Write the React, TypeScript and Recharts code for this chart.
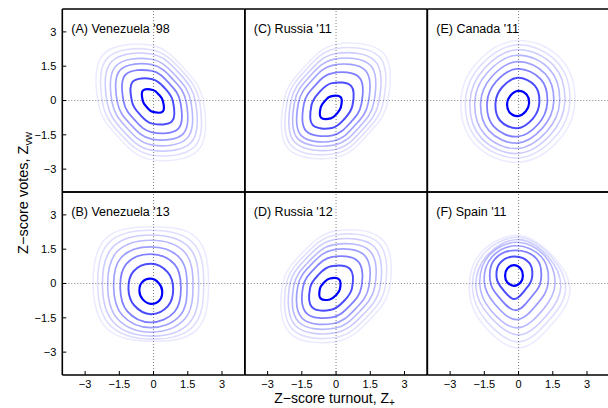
import React from 'react'
import { ScatterChart, Scatter, XAxis, YAxis, ReferenceLine } from 'recharts'

const ticks = [-3, -1.5, 0, 1.5, 3]
const levelOpacity = [1, 0.7, 0.5, 0.38, 0.28, 0.2, 0.13, 0.08]
const levelWidth = [2.2, 2, 1.8, 1.7, 1.6, 1.6, 1.6, 1.6]
// radii are read along these directions (deg): E, NE, N, NW, W, SW, S, SE
const directions = [0, 45, 90, 135, 180, 225, 270, 315]

const venezuela98Centers = [[-0.03, -0.02], [-0.05, -0.04], [-0.07, -0.05], [-0.08, -0.06], [-0.09, -0.07], [-0.1, -0.07], [-0.11, -0.08], [-0.12, -0.08]]
const venezuela98Radii = [
  [0.44, 0.38, 0.48, 0.63, 0.44, 0.38, 0.48, 0.63],
  [0.9, 0.79, 0.97, 1.22, 0.9, 0.79, 0.97, 1.22],
  [1.24, 1.1, 1.34, 1.65, 1.24, 1.1, 1.34, 1.65],
  [1.51, 1.35, 1.63, 1.96, 1.51, 1.35, 1.63, 1.96],
  [1.73, 1.56, 1.87, 2.22, 1.73, 1.56, 1.87, 2.22],
  [1.94, 1.76, 2.1, 2.48, 1.94, 1.76, 2.1, 2.48],
  [2.13, 1.93, 2.3, 2.72, 2.13, 1.93, 2.3, 2.72],
  [2.31, 2.08, 2.5, 2.95, 2.31, 2.08, 2.5, 2.95],
]

const venezuela13Centers = [[-0.12, -0.34], [-0.12, -0.24], [-0.13, -0.2], [-0.13, -0.15], [-0.13, -0.11], [-0.12, -0.08], [-0.12, -0.05], [-0.12, -0.02]]
const venezuela13Radii = [
  [0.5, 0.5, 0.55, 0.55, 0.5, 0.5, 0.55, 0.55],
  [0.98, 1.04, 1.1, 1.08, 0.98, 1.02, 1.1, 1.06],
  [1.33, 1.48, 1.48, 1.5, 1.33, 1.44, 1.5, 1.48],
  [1.6, 1.8, 1.75, 1.82, 1.62, 1.75, 1.78, 1.8],
  [1.86, 2.1, 2.0, 2.1, 1.88, 2.04, 2.02, 2.08],
  [2.1, 2.36, 2.2, 2.36, 2.12, 2.3, 2.22, 2.36],
  [2.32, 2.6, 2.38, 2.6, 2.33, 2.52, 2.38, 2.6],
  [2.53, 2.84, 2.5, 2.8, 2.53, 2.74, 2.5, 2.84],
]

const russia11Centers = [[-0.23, -0.3], [-0.18, -0.22], [-0.15, -0.16], [-0.12, -0.11], [-0.08, -0.07], [-0.05, -0.05], [-0.03, -0.03], [-0.01, -0.02]]
const russia11Radii = [
  [0.44, 0.62, 0.48, 0.38, 0.44, 0.62, 0.48, 0.38],
  [0.9, 1.2, 0.98, 0.8, 0.9, 1.2, 0.98, 0.8],
  [1.26, 1.65, 1.36, 1.12, 1.26, 1.65, 1.36, 1.12],
  [1.53, 2.0, 1.66, 1.36, 1.53, 2.0, 1.66, 1.36],
  [1.74, 2.26, 1.88, 1.55, 1.74, 2.26, 1.88, 1.55],
  [1.93, 2.5, 2.09, 1.72, 1.93, 2.5, 2.09, 1.72],
  [2.11, 2.74, 2.29, 1.88, 2.11, 2.74, 2.29, 1.88],
  [2.28, 2.95, 2.47, 2.02, 2.28, 2.95, 2.47, 2.02],
]

const russia12Centers = [[-0.27, -0.24], [-0.22, -0.2], [-0.17, -0.16], [-0.12, -0.14], [-0.08, -0.13], [-0.05, -0.12], [-0.02, -0.12], [0, -0.12]]
const russia12Radii = [
  [0.44, 0.58, 0.46, 0.38, 0.44, 0.58, 0.46, 0.38],
  [0.92, 1.18, 0.95, 0.8, 0.92, 1.18, 0.95, 0.8],
  [1.28, 1.6, 1.32, 1.12, 1.28, 1.6, 1.32, 1.12],
  [1.56, 1.94, 1.61, 1.37, 1.56, 1.94, 1.61, 1.37],
  [1.78, 2.2, 1.83, 1.56, 1.78, 2.2, 1.83, 1.56],
  [1.99, 2.44, 2.04, 1.75, 1.99, 2.44, 2.04, 1.75],
  [2.18, 2.67, 2.24, 1.92, 2.18, 2.67, 2.24, 1.92],
  [2.36, 2.88, 2.42, 2.08, 2.36, 2.88, 2.42, 2.08],
]

const canada11Centers = [[-0.02, -0.13], [-0.05, -0.11], [-0.06, -0.1], [-0.06, -0.08], [-0.06, -0.06], [-0.05, -0.05], [-0.04, -0.04], [-0.03, -0.04]]
const canada11Radii = [
  [0.48, 0.54, 0.55, 0.48, 0.48, 0.54, 0.55, 0.48],
  [0.96, 1.08, 1.1, 0.96, 0.96, 1.08, 1.1, 0.96],
  [1.32, 1.46, 1.48, 1.31, 1.32, 1.46, 1.48, 1.31],
  [1.6, 1.75, 1.78, 1.58, 1.6, 1.75, 1.78, 1.58],
  [1.86, 2.01, 2.04, 1.83, 1.86, 2.01, 2.04, 1.83],
  [2.08, 2.24, 2.27, 2.05, 2.08, 2.24, 2.27, 2.05],
  [2.29, 2.44, 2.47, 2.26, 2.29, 2.44, 2.47, 2.26],
  [2.5, 2.65, 2.66, 2.47, 2.5, 2.65, 2.66, 2.47],
]

const spain11Centers = [[-0.2, 0.35], [-0.18, 0.25], [-0.12, 0.15], [-0.08, 0.05], [-0.05, 0], [0, -0.15], [0, -0.22], [0, -0.3]]
const spain11Radii = [
  [0.39, 0.42, 0.45, 0.42, 0.39, 0.42, 0.45, 0.42],
  [0.77, 0.92, 0.93, 0.9, 0.78, 0.72, 0.93, 0.7],
  [1.1, 1.3, 1.3, 1.3, 1.13, 1.05, 1.32, 1.0],
  [1.38, 1.55, 1.6, 1.55, 1.42, 1.35, 1.63, 1.3],
  [1.65, 1.7, 1.8, 1.75, 1.65, 1.65, 1.94, 1.6],
  [1.85, 1.85, 2.07, 1.95, 1.87, 1.8, 2.1, 1.75],
  [2.06, 2.0, 2.24, 2.15, 2.02, 2.0, 2.33, 1.92],
  [2.25, 2.12, 2.4, 2.33, 2.16, 2.16, 2.52, 2.08],
]

const panels = [
  { title: "(A) Venezuela '98", centers: venezuela98Centers, radii: venezuela98Radii, col: 0, row: 0 },
  { title: "(B) Venezuela '13", centers: venezuela13Centers, radii: venezuela13Radii, col: 0, row: 1 },
  { title: "(C) Russia '11", centers: russia11Centers, radii: russia11Radii, col: 1, row: 0 },
  { title: "(D) Russia '12", centers: russia12Centers, radii: russia12Radii, col: 1, row: 1 },
  { title: "(E) Canada '11", centers: canada11Centers, radii: canada11Radii, col: 2, row: 0 },
  { title: "(F) Spain '11", centers: spain11Centers, radii: spain11Radii, col: 2, row: 1 },
]

const CW = 620
const CH = 408
const PW = 182.5
const PH = 183
const AX = 1 // axis box size; recharts skips axes of zero size
const colLeft = [62.3, 244.8, 427.3]
const rowTop = [9, 192]
const FONT = '"Liberation Sans", Arial, Helvetica, sans-serif'
const border = { stroke: '#000', strokeWidth: 1.6 }

const fmt = (v: number) => String(v).replace('-', '\u2212')

// closed cardinal curve through the read points (tension tuned so 8 points make a round ellipse)
const closedSmooth = (ctx: any) => {
  let pts: number[][] = []
  const k = 0.1875
  return {
    areaStart() {},
    areaEnd() {},
    lineStart() { pts = [] },
    point(x: number, y: number) { pts.push([+x, +y]) },
    lineEnd() {
      const n = pts.length
      if (n < 3) return
      ctx.moveTo(pts[0][0], pts[0][1])
      for (let i = 0; i < n; i++) {
        const p0 = pts[(i + n - 1) % n]
        const p1 = pts[i]
        const p2 = pts[(i + 1) % n]
        const p3 = pts[(i + 2) % n]
        ctx.bezierCurveTo(
          p1[0] + (p2[0] - p0[0]) * k, p1[1] + (p2[1] - p0[1]) * k,
          p2[0] - (p3[0] - p1[0]) * k, p2[1] - (p3[1] - p1[1]) * k,
          p2[0], p2[1]
        )
      }
      ctx.closePath()
    },
  }
}

const contourPoints = (c: number[], r: number[]) =>
  r.map((d, i) => ({
    x: c[0] + d * Math.cos((directions[i] * Math.PI) / 180),
    y: c[1] + d * Math.sin((directions[i] * Math.PI) / 180),
  }))

function Panel({ p }: { p: (typeof panels)[number] }) {
  const left = colLeft[p.col]
  const top = rowTop[p.row]
  const showX = p.row === 1
  const showY = p.col === 0
  const tickStyle = { fill: '#000', fontSize: 11 }
  return (
    <div style={{ position: 'absolute', left: 0, top: 0 }}>
      <ScatterChart
        width={CW}
        height={CH}
        margin={{ top: top - AX, left: left - AX, right: CW - left - PW - AX, bottom: CH - top - PH - AX }}
      >
        <XAxis type="number" dataKey="x" domain={[-4, 4]} ticks={ticks} interval={0} height={AX}
          allowDataOverflow tickSize={-4} tickMargin={9} tickFormatter={fmt}
          tick={showX ? tickStyle : false} axisLine={border} tickLine={{ stroke: '#000' }} />
        <XAxis xAxisId="top" orientation="top" type="number" dataKey="x" domain={[-4, 4]} ticks={ticks}
          interval={0} height={AX} allowDataOverflow tickSize={-4} tick={false} axisLine={border}
          tickLine={{ stroke: '#000' }} />
        <YAxis type="number" dataKey="y" domain={[-4, 4]} ticks={ticks} interval={0} width={AX}
          allowDataOverflow tickSize={-4} tickMargin={10} tickFormatter={fmt}
          tick={showY ? tickStyle : false} axisLine={border} tickLine={{ stroke: '#000' }} />
        <YAxis yAxisId="right" orientation="right" type="number" dataKey="y" domain={[-4, 4]} ticks={ticks}
          interval={0} width={AX} allowDataOverflow tickSize={-4} tick={false} axisLine={border}
          tickLine={{ stroke: '#000' }} />
        <ReferenceLine x={0} stroke="#808080" strokeDasharray="1 2" />
        <ReferenceLine y={0} stroke="#808080" strokeDasharray="1 2" />
        {p.radii.map((r, i) => (
          <Scatter
            key={i}
            data={contourPoints(p.centers[i], r)}
            fill="#0000ff"
            line={{ stroke: '#0000ff', strokeWidth: levelWidth[i], strokeOpacity: levelOpacity[i] }}
            lineJointType={closedSmooth as any}
            shape={() => <g />}
            isAnimationActive={false}
          />
        ))}
      </ScatterChart>
    </div>
  )
}

export default function App() {
  return (
    <div style={{ position: 'absolute', left: 0, top: 0, width: 608, height: 408, overflow: 'hidden', background: '#fff', fontFamily: FONT }}>
      {panels.map((p) => <Panel key={p.title} p={p} />)}
      <svg width={608} height={408} style={{ position: 'absolute', left: 0, top: 0, pointerEvents: 'none' }} fontFamily={FONT}>
        {panels.map((p) => (
          <text key={p.title} x={colLeft[p.col] + 9} y={rowTop[p.row] + 23.5} fontSize={12.5} fill="#000">
            {p.title}
          </text>
        ))}
        <text x={334.5} y={402.5} fontSize={14} textAnchor="middle" fill="#000">
          Z{'\u2212'}score turnout, Z<tspan fontSize={10} dy={3}>+</tspan>
        </text>
        <text transform="translate(28,193) rotate(-90)" fontSize={14.5} textAnchor="middle" fill="#000">
          Z{'\u2212'}score votes, Z<tspan fontSize={11} dy={4}>vw</tspan>
        </text>
      </svg>
    </div>
  )
}
